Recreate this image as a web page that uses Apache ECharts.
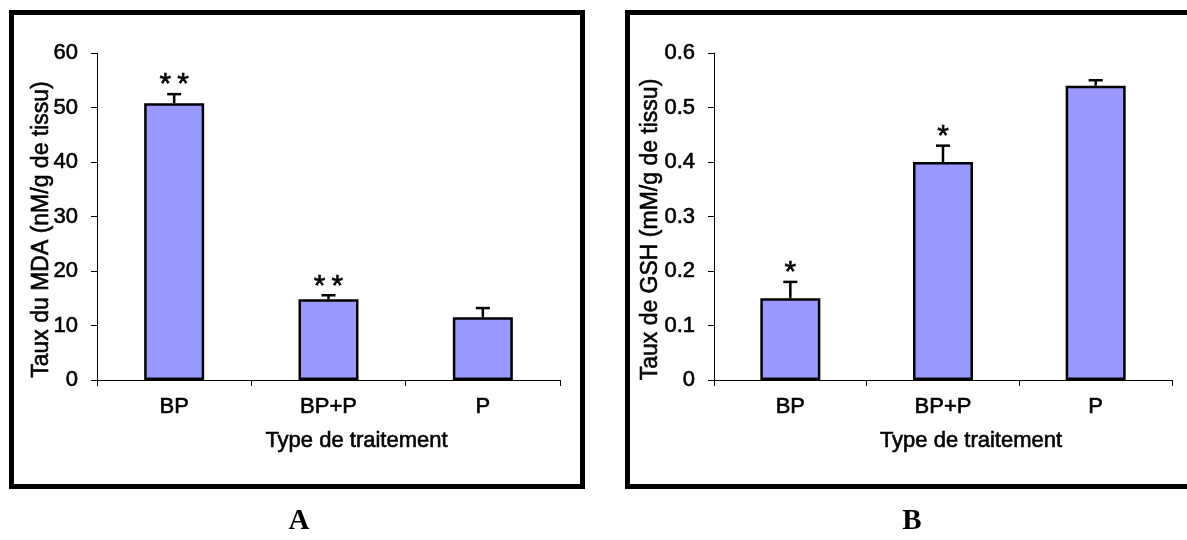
<!DOCTYPE html>
<html><head><meta charset="utf-8">
<script src="https://cdn.jsdelivr.net/npm/echarts@6/dist/echarts.min.js"></script>
<style>html,body{margin:0;padding:0;background:#fff}#c{width:1187px;height:540px}</style>
</head><body><div id="c"></div>
<script>
const categories = ['BP', 'BP+P', 'P'];
const mdaMean = [50.8, 14.8, 11.5];
const mdaErr = [1.65, 0.75, 1.7];
const mdaStars = ['**', '**', ''];
const gshMean = [0.15, 0.40, 0.54];
const gshErr = [0.03, 0.03, 0.01];
const gshStars = ['*', '*', ''];
const mdaTicks = [0, 10, 20, 30, 40, 50, 60];
const gshTicks = [0, 0.1, 0.2, 0.3, 0.4, 0.5, 0.6];
const panelLabels = ['A', 'B'];
const xTitle = 'Type de traitement';
const yTitleA = 'Taux du MDA (nM/g de tissu)';
const yTitleB = 'Taux de GSH (mM/g de tissu)';

const FONT = '"Liberation Sans", Arial, sans-serif';
const HEAVY = {textBorderColor: '#000', textBorderWidth: 0.6};
const chart = echarts.init(document.getElementById('c'), null, {renderer: 'canvas'});

function errRender(means, errs, stars) {
  return function (params, api) {
    const i = params.dataIndex;
    const top = api.coord([i, means[i]]);
    const cap = api.coord([i, means[i] + errs[i]]);
    const x = top[0];
    const children = [
      {type: 'line', shape: {x1: x, y1: top[1], x2: x, y2: cap[1]}, style: {stroke: '#000', lineWidth: 2.5}},
      {type: 'line', shape: {x1: x - 7, y1: cap[1], x2: x + 7, y2: cap[1]}, style: {stroke: '#000', lineWidth: 2.5}}
    ];
    if (stars[i]) {
      children.push({type: 'text', style: {
        text: stars[i].split('').join('\u2009'), x: x, y: cap[1] - 9,
        align: 'center', verticalAlign: 'middle',
        fontSize: 30, fontFamily: FONT, fill: '#000', stroke: '#000', lineWidth: 0.6}});
    }
    return {type: 'group', children: children};
  };
}

function xAxisCfg(gi) {
  return {
    gridIndex: gi, type: 'category', data: categories,
    axisLine: {show: true, lineStyle: {color: '#000', width: 1}},
    axisTick: {show: true, length: 6, lineStyle: {color: '#000'}},
    axisLabel: Object.assign({fontSize: 22, color: '#000', fontFamily: FONT, margin: 16}, HEAVY),
    name: xTitle, nameLocation: 'middle', nameGap: 50, nameMoveOverlap: false,
    nameTextStyle: Object.assign({fontSize: 22, color: '#000', fontFamily: FONT, padding: [0, 0, 0, 56]}, HEAVY)
  };
}
function yAxisCfg(gi, ticks, title, gap) {
  return {
    gridIndex: gi, type: 'value', min: ticks[0], max: ticks[ticks.length - 1],
    interval: ticks[1] - ticks[0],
    splitLine: {show: false},
    axisLine: {show: true, lineStyle: {color: '#000', width: 1}},
    axisTick: {show: true, length: 6, lineStyle: {color: '#000'}},
    axisLabel: Object.assign({fontSize: 22, color: '#000', fontFamily: FONT, margin: 19}, HEAVY),
    name: title, nameLocation: 'middle', nameGap: gap, nameMoveOverlap: false,
    nameTextStyle: Object.assign({fontSize: 23, color: '#000', fontFamily: FONT, padding: [0, 26, 0, 0]}, HEAVY)
  };
}

const option = {
  backgroundColor: '#fff',
  animation: false,
  grid: [
    {left: 97, right: 1187 - 560, top: 53, bottom: 540 - 380, containLabel: false},
    {left: 714, right: 1187 - 1172, top: 53, bottom: 540 - 380, containLabel: false}
  ],
  xAxis: [xAxisCfg(0), xAxisCfg(1)],
  yAxis: [yAxisCfg(0, mdaTicks, yTitleA, 44), yAxisCfg(1, gshTicks, yTitleB, 52)],
  series: [
    {type: 'bar', xAxisIndex: 0, yAxisIndex: 0, data: mdaMean, barWidth: 60,
     itemStyle: {color: '#9999ff', borderColor: '#000', borderWidth: 2.5}},
    {type: 'custom', xAxisIndex: 0, yAxisIndex: 0, z: 5,
     data: categories.map((c, i) => [i, mdaMean[i] + mdaErr[i]]),
     encode: {x: 0, y: 1}, renderItem: errRender(mdaMean, mdaErr, mdaStars)},
    {type: 'bar', xAxisIndex: 1, yAxisIndex: 1, data: gshMean, barWidth: 60,
     itemStyle: {color: '#9999ff', borderColor: '#000', borderWidth: 2.5}},
    {type: 'custom', xAxisIndex: 1, yAxisIndex: 1, z: 5,
     data: categories.map((c, i) => [i, gshMean[i] + gshErr[i]]),
     encode: {x: 0, y: 1}, renderItem: errRender(gshMean, gshErr, gshStars)}
  ],
  graphic: [
    {type: 'rect', shape: {x: 11.5, y: 12.5, width: 571, height: 474},
     style: {fill: null, stroke: '#000', lineWidth: 5}, silent: true},
    {type: 'rect', shape: {x: 627.5, y: 12.5, width: 600, height: 474},
     style: {fill: null, stroke: '#000', lineWidth: 5}, silent: true},
    {type: 'text', x: 299, y: 522, style: {text: panelLabels[0], align: 'center', verticalAlign: 'middle',
     fontSize: 29, fontWeight: 'bold', fontFamily: '"Liberation Serif", "Times New Roman", serif', fill: '#000'}},
    {type: 'text', x: 912, y: 522, style: {text: panelLabels[1], align: 'center', verticalAlign: 'middle',
     fontSize: 29, fontWeight: 'bold', fontFamily: '"Liberation Serif", "Times New Roman", serif', fill: '#000'}}
  ]
};
chart.setOption(option);
</script>
</body></html>
